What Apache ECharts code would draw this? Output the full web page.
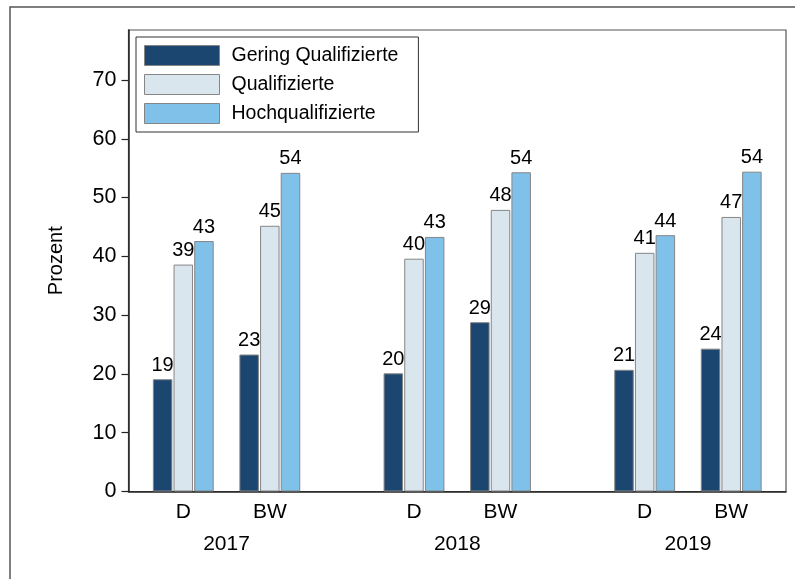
<!DOCTYPE html>
<html>
<head>
<meta charset="utf-8">
<script src="https://cdn.jsdelivr.net/npm/echarts@6/dist/echarts.min.js"></script>
<style>
html,body{margin:0;padding:0;background:#fff;}
#chart{width:795px;height:579px;}
</style>
</head>
<body>
<div id="chart"></div>
<script>
// ---- data ----
var years = ['2017', '2018', '2019'];
var regions = ['D', 'BW'];
var seriesNames = ['Gering Qualifizierte', 'Qualifizierte', 'Hochqualifizierte'];
// values ordered: 2017 D, 2017 BW, 2018 D, 2018 BW, 2019 D, 2019 BW
var gering = [19.1, 23.3, 20.1, 28.8, 20.7, 24.3];
var qualifiziert = [38.6, 45.2, 39.6, 47.9, 40.6, 46.7];
var hochqualifiziert = [42.6, 54.2, 43.3, 54.3, 43.6, 54.4];
var yTicks = [0, 10, 20, 30, 40, 50, 60, 70];

// ---- layout helpers ----
var PAIR_STEP = 3, YEAR_STEP = 8;
var positions = [], regionLabelMap = {}, yearLabelMap = {}, yearPositions = [];
years.forEach(function (y, g) {
  regions.forEach(function (r, s) {
    var p = YEAR_STEP * g + PAIR_STEP * s;
    positions.push(p);
    regionLabelMap[p] = r;
  });
  var c = YEAR_STEP * g + PAIR_STEP / 2;
  yearPositions.push(c);
  yearLabelMap[c] = y;
});

var colors = ['#1b4670', '#d9e6ee', '#80c1ea'];
var allValues = [gering, qualifiziert, hochqualifiziert];
var FONT = 'Liberation Sans, Arial, Helvetica, sans-serif';

var chart = echarts.init(document.getElementById('chart'));
var series = allValues.map(function (vals, i) {
  return {
    name: seriesNames[i],
    type: 'bar',
    barWidth: 19.5,
    barGap: '6%',
    data: vals.map(function (v, k) { return [positions[k], v]; }),
    itemStyle: { color: colors[i], borderColor: '#858585', borderWidth: 1 },
    label: {
      show: true, position: 'top', distance: 4,
      color: '#000', fontSize: 20, fontFamily: FONT,
      formatter: function (p) { return Math.round(p.value[1]); }
    }
  };
});

var xCommon = {
  type: 'value', min: -1.9, max: 20.9,
  splitLine: { show: false }, axisTick: { show: false }
};

chart.setOption({
  animation: false,
  backgroundColor: '#fff',
  textStyle: { fontFamily: FONT },
  graphic: [{
    type: 'rect', shape: { x: 10, y: 7, width: 900, height: 700 },
    style: { fill: 'none', stroke: '#555', lineWidth: 1.5 }, silent: true, z: -1
  }],
  grid: {
    left: 128.5, right: 9, top: 30, bottom: 87.5,
    show: true, borderColor: '#555', borderWidth: 1.2, backgroundColor: '#fff'
  },
  legend: {
    orient: 'vertical', left: 136, top: 37,
    itemWidth: 75, itemHeight: 20, itemGap: 8,
    padding: [8, 20, 8, 8],
    borderColor: '#333', borderWidth: 1, backgroundColor: '#fff',
    icon: 'rect',
    itemStyle: { borderColor: '#858585', borderWidth: 1 },
    textStyle: { fontSize: 19.5, color: '#000', padding: [0, 0, 0, 7], fontFamily: FONT },
    data: seriesNames
  },
  xAxis: [
    Object.assign({}, xCommon, {
      position: 'bottom',
      axisLine: { show: true, onZero: false, lineStyle: { color: '#222', width: 1.5 } },
      axisLabel: {
        customValues: positions, margin: 10, color: '#000', fontSize: 21,
        formatter: function (v) { return regionLabelMap[v] || ''; }
      }
    }),
    Object.assign({}, xCommon, {
      position: 'bottom', offset: 33,
      axisLine: { show: false },
      axisLabel: {
        customValues: yearPositions, margin: 9, color: '#000', fontSize: 21,
        formatter: function (v) { return yearLabelMap[v] || ''; }
      }
    })
  ],
  yAxis: {
    type: 'value', min: 0, max: 78.5,
    name: 'Prozent', nameLocation: 'middle', nameRotate: 90, nameGap: 62,
    nameTextStyle: { fontSize: 20, color: '#000' },
    splitLine: { show: false },
    axisLine: { show: true, onZero: false, lineStyle: { color: '#222', width: 1.5 } },
    axisTick: { show: true, customValues: yTicks, length: 7, lineStyle: { color: '#222', width: 1.2 } },
    axisLabel: { customValues: yTicks, margin: 12, color: '#000', fontSize: 21.5 }
  },
  series: series
});
</script>
</body>
</html>
